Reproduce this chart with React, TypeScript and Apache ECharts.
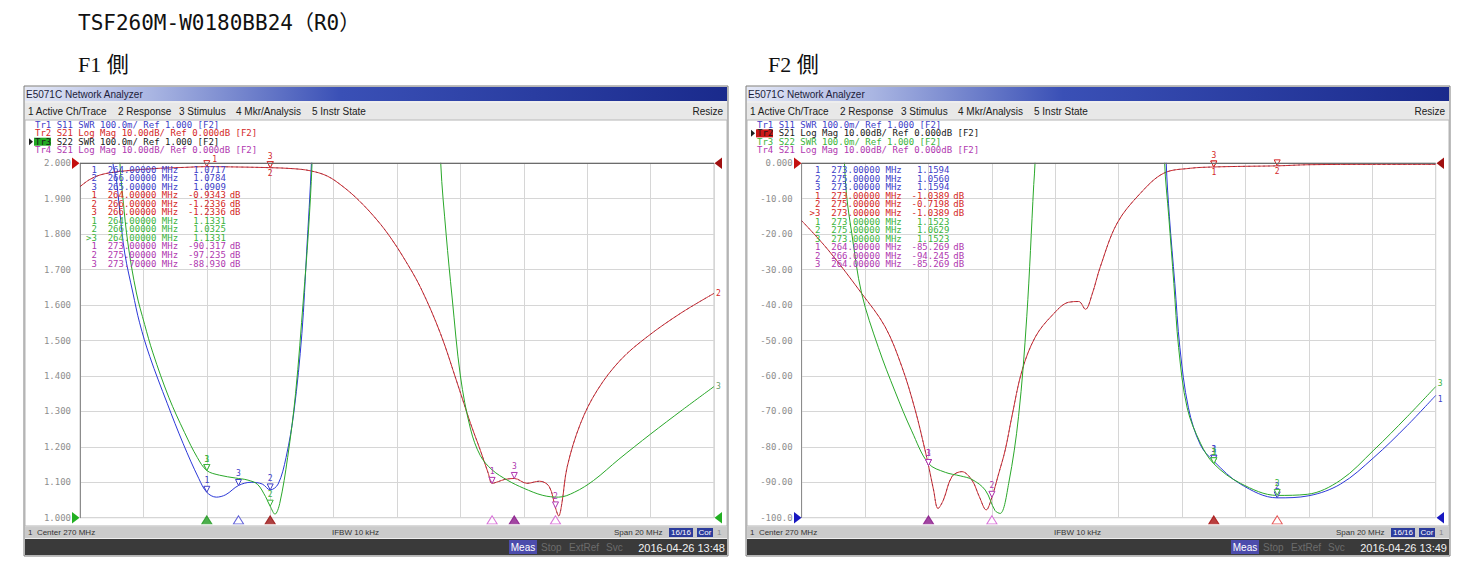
import React, { useEffect, useRef } from "react";
import * as echarts from "echarts";

// ---------- data ----------
const FREQ_MIN = 260;
const FREQ_MAX = 280;
const FREQ_STEP = 2;

// F1 side traces: [MHz, value]
const f1S11: [number, number][] = [
  [260.0, 4.0], [260.8, 2.5], [261.04, 2.0], [261.15, 1.953], [261.25, 1.868], [261.41, 1.747], [261.67, 1.634],
  [261.88, 1.55], [262.2, 1.455], [262.75, 1.323], [263.25, 1.21], [263.75, 1.11], [264.0, 1.0717], [264.3, 1.058],
  [264.6, 1.065], [265.0, 1.0909], [265.4, 1.1], [265.75, 1.095], [266.0, 1.0784], [266.25, 1.095],
  [266.5, 1.17], [266.75, 1.3], [267.0, 1.52], [267.15, 1.75], [267.3, 2.0], [267.45, 2.4], [268.0, 4.0], [280.0, 5.0],
];
const f1S22: [number, number][] = [
  [260.0, 4.0], [261.0, 2.5], [261.26, 2.0], [261.36, 1.896], [261.51, 1.775], [261.78, 1.634], [262.04, 1.545],
  [262.3, 1.465], [262.8, 1.34], [263.3, 1.24], [263.7, 1.17], [264.0, 1.1331], [264.4, 1.12], [264.9, 1.112],
  [265.3, 1.106], [265.6, 1.094], [265.85, 1.06], [266.0, 1.0325], [266.15, 1.01], [266.3, 1.04], [266.55, 1.17],
  [266.8, 1.35], [267.05, 1.62], [267.2, 1.8], [267.32, 2.0], [267.5, 2.5], [268.5, 5.0], [270.5, 5.0], [271.2, 2.5],
  [271.38, 2.0], [271.55, 1.8], [271.74, 1.62], [272.0, 1.4], [272.32, 1.25], [272.63, 1.175], [273.0, 1.135],
  [273.5, 1.105], [274.0, 1.083], [274.6, 1.063], [275.1, 1.058], [275.6, 1.072], [276.2, 1.105], [277.0, 1.165],
  [278.0, 1.236], [279.0, 1.304], [280.0, 1.37],
];
const f1S21: [number, number][] = [
  [260.0, -6.6], [260.3, -4.6], [260.63, -3.3], [261.0, -2.6], [261.47, -2.1], [262.0, -1.7], [262.53, -1.4],
  [263.3, -1.15], [264.0, -0.9343], [265.0, -1.05], [266.0, -1.2336], [266.7, -1.5], [267.26, -2.1],
  [267.8, -3.6], [268.3, -6.6], [268.8, -10.5], [269.37, -16.0], [269.8, -21.0], [270.2, -26.5],
  [270.74, -35.0], [271.37, -48.0], [271.9, -62.0], [272.32, -73.4], [272.63, -81.0], [272.88, -87.5],
  [273.0, -90.317], [273.2, -89.8], [273.4, -89.2], [273.7, -88.93], [274.1, -90.3], [274.5, -89.7],
  [274.8, -91.2], [275.0, -97.235], [275.1, -99.5], [275.2, -96.0], [275.37, -85.6], [275.79, -73.4],
  [276.32, -64.0], [277.05, -55.5], [277.9, -48.9], [278.95, -42.3], [280.0, -36.7],
];

// F2 side traces
const f2S11: [number, number][] = [
  [260.0, 5.0], [270.8, 5.0], [271.3, 2.6], [271.5, 2.0], [271.6, 1.849], [271.77, 1.661], [271.93, 1.48],
  [272.2, 1.31], [272.58, 1.205], [273.0, 1.1594], [273.84, 1.095], [275.0, 1.056], [276.0, 1.062],
  [277.0, 1.095], [278.05, 1.17], [279.1, 1.26], [280.0, 1.345],
];
const f2S22: [number, number][] = [
  [260.0, 4.0], [261.1, 2.6], [261.35, 2.0], [261.42, 1.906], [261.58, 1.802], [261.89, 1.633],
  [262.42, 1.48], [262.95, 1.355], [263.47, 1.245], [264.0, 1.153], [264.53, 1.128], [265.0, 1.118], [265.37, 1.108],
  [265.79, 1.078], [266.1, 1.02], [266.26, 1.012], [266.53, 1.097], [266.84, 1.285], [267.1, 1.567],
  [267.32, 1.94], [267.36, 2.0], [267.6, 2.8], [269.0, 5.0], [270.8, 5.0], [271.25, 2.6], [271.45, 2.0],
  [271.58, 1.849], [271.74, 1.661], [271.89, 1.48], [272.16, 1.31], [272.58, 1.21], [273.0, 1.1523],
  [273.84, 1.097], [275.0, 1.0629], [275.95, 1.066], [277.0, 1.106], [278.05, 1.191], [279.1, 1.285],
  [280.0, 1.37],
];
const f2S21: [number, number][] = [
  [260.0, -16.2], [260.84, -24.5], [261.89, -36.7], [262.63, -46.1], [263.16, -57.4], [263.58, -69.6],
  [263.89, -80.9], [264.0, -85.269], [264.16, -92.2], [264.3, -97.4], [264.47, -95.0], [264.74, -88.4],
  [265.05, -87.0], [265.37, -89.4], [265.6, -94.0], [265.82, -97.8], [266.0, -94.245], [266.2, -88.0],
  [266.42, -80.9], [266.63, -71.5], [266.95, -58.5], [267.37, -49.0], [267.89, -43.0], [268.42, -39.2],
  [268.74, -39.0], [268.95, -41.2], [269.16, -37.0], [269.42, -29.2], [269.95, -16.9], [270.68, -8.5],
  [271.42, -2.8], [272.26, -1.4], [273.0, -1.0389], [274.0, -0.85], [275.0, -0.7198], [276.0, -0.4],
  [278.0, -0.3], [280.0, -0.3],
];

// marker tables [MHz, value]
const f1Mk1: [number, number][] = [[264, 1.0717], [266, 1.0784], [265, 1.0909]];
const f1Mk2: [number, number][] = [[264, -0.9343], [266, -1.2336], [266, -1.2336]];
const f1Mk3: [number, number][] = [[264, 1.1331], [266, 1.0325], [264, 1.1331]];
const f1Mk4: [number, number][] = [[273, -90.317], [275, -97.235], [273.7, -88.93]];
const f2Mk1: [number, number][] = [[273, 1.1594], [275, 1.056], [273, 1.1594]];
const f2Mk2: [number, number][] = [[273, -1.0389], [275, -0.7198], [273, -1.0389]];
const f2Mk3: [number, number][] = [[273, 1.1523], [275, 1.0629], [273, 1.1523]];
const f2Mk4: [number, number][] = [[264, -85.269], [266, -94.245], [264, -85.269]];

// stimulus marker positions along the bottom
const f1StimFreq = [264, 265, 266, 273, 273.7, 275];
const f1StimColor = ["#1f9a1f", "#3a3ad0", "#9a1010", "#d050d0", "#8a168a", "#d050d0"];
const f1StimFill = [true, false, true, false, true, false];
const f2StimFreq = [264, 266, 273, 275];
const f2StimColor = ["#8a168a", "#d050d0", "#a80e0e", "#e03030"];
const f2StimFill = [true, false, true, false];

const traceHeaders = [
  "Tr1 S11 SWR 100.0m/ Ref 1.000 [F2]",
  "Tr2 S21 Log Mag 10.00dB/ Ref 0.000dB [F2]",
  "Tr3 S22 SWR 100.0m/ Ref 1.000 [F2]",
  "Tr4 S21 Log Mag 10.00dB/ Ref 0.000dB [F2]",
];
const menuItems = ["1 Active Ch/Trace", "2 Response", "3 Stimulus", "4 Mkr/Analysis", "5 Instr State"];

// ---------- styles ----------
const MONO = "'DejaVu Sans Mono', monospace";
const SANS = "'Liberation Sans', Arial, sans-serif";
const LINE = { tr1: "#2b38d8", tr2: "#d43030", tr3: "#2aa82a", tr4: "#6a2450" };
const TXT = { tr1: "#4040c8", tr2: "#d42828", tr3: "#3cb43c", tr4: "#b038b0" };
const CH = 5.42; // mono char width at 9px

function fmtVal(v: number) {
  const a = Math.abs(v);
  return (v < 0 ? "-" : "") + (a < 10 ? a.toFixed(4) : a.toFixed(3));
}
function fmtDb(v: number) {
  if (v === 0) return "0.000";
  if (Math.abs(v) >= 100) return v.toFixed(1);
  return v.toFixed(2);
}

function txt(x: number, y: number, text: string, font: string, fill: string, align = "left", z = 30) {
  return { type: "text", z, silent: true, x, y, style: { text, font, fill, align, verticalAlign: "middle" } };
}
function rect(x: number, y: number, w: number, h: number, style: any, z = -20) {
  return { type: "rect", z, silent: true, shape: { x, y, width: w, height: h }, style };
}
function tri(points: number[][], fill: string) {
  return { type: "polygon", z: 40, silent: true, shape: { points }, style: { fill } };
}

function chrome(x0: number, date: string, activeTr: number) {
  const W = 704;
  const els: any[] = [];
  els.push(rect(x0, 86, W, 470, { fill: "#eeeeee", stroke: "#7c7c7c", lineWidth: 1 }, -30));
  els.push(
    rect(x0 + 1, 87, W - 2, 14, {
      fill: new echarts.graphic.LinearGradient(0, 0, 1, 0, [
        { offset: 0, color: "#e4e8f6" },
        { offset: 0.18, color: "#a9b5e2" },
        { offset: 0.45, color: "#3a50b6" },
        { offset: 1, color: "#1a2a8c" },
      ]),
    }, -25)
  );
  els.push(txt(x0 + 2, 94.5, "E5071C Network Analyzer", `10px ${SANS}`, "#1c1c3a"));
  els.push(rect(x0 + 1, 103, W - 2, 16, { fill: "#e8e8e8" }, -25));
  const menuX = [4, 94, 155, 212, 288];
  menuItems.forEach((m, i) => els.push(txt(x0 + menuX[i], 111.5, m, `10px ${SANS}`, "#202020")));
  els.push(txt(x0 + W - 5, 111.5, "Resize", `10px ${SANS}`, "#202020", "right"));
  els.push(rect(x0 + 1, 120, W - 2, 406, { fill: "#ffffff", stroke: "#b4b4b4", lineWidth: 1 }, -25));
  // header lines
  const hColors = [TXT.tr1, TXT.tr2, TXT.tr3, TXT.tr4];
  const boxColors = ["#3a3ad0", "#cc1818", "#22a822", "#b038b0"];
  traceHeaders.forEach((h, i) => {
    const y = 125 + i * 8.35;
    if (i + 1 === activeTr) {
      els.push(rect(x0 + 10, y - 4, 17, 8, { fill: boxColors[i] }, 20));
      els.push(tri([[x0 + 5, y - 3.5], [x0 + 5, y + 3.5], [x0 + 9, y]], "#202020"));
    }
    els.push(txt(x0 + 11, y, h, `9px ${MONO}`, i + 1 === activeTr ? "#1a1a1a" : hColors[i]));
  });
  // status bar
  els.push(rect(x0 + 1, 527, W - 2, 11, { fill: "#cbcbcb" }, -25));
  els.push(txt(x0 + 4, 532.5, "1  Center 270 MHz", `8px ${SANS}`, "#333333"));
  els.push(txt(x0 + 308, 532.5, "IFBW 10 kHz", `8px ${SANS}`, "#333333"));
  els.push(txt(x0 + 590, 532.5, "Span 20 MHz", `8px ${SANS}`, "#333333"));
  els.push(rect(x0 + 645, 528, 24, 9, { fill: "#2c3c9c" }, 10));
  els.push(txt(x0 + 657, 532.5, "16/16", `8px ${SANS}`, "#ffffff", "center"));
  els.push(rect(x0 + 673, 528, 16, 9, { fill: "#2c3c9c" }, 10));
  els.push(txt(x0 + 681, 532.5, "Cor", `8px ${SANS}`, "#ffffff", "center"));
  els.push(txt(x0 + 693, 532.5, "1", `8px ${SANS}`, "#888888"));
  // dark bar
  els.push(rect(x0 + 1, 539, W - 2, 16, { fill: "#3a3a3a" }, -25));
  els.push(rect(x0 + 485, 540, 28, 14, { fill: "#4c4cac" }, 10));
  els.push(txt(x0 + 499, 547.5, "Meas", `10px ${SANS}`, "#ffffff", "center"));
  els.push(txt(x0 + 517, 547.5, "Stop", `10px ${SANS}`, "#6c6c6c"));
  els.push(txt(x0 + 545, 547.5, "ExtRef", `10px ${SANS}`, "#6c6c6c"));
  els.push(txt(x0 + 582, 547.5, "Svc", `10px ${SANS}`, "#6c6c6c"));
  els.push(txt(x0 + 701, 547.5, date, `11px ${SANS}`, "#f2f2f2", "right"));
  return els;
}

function markerTable(x0: number, y0: number, groups: { pts: [number, number][]; color: string; dB: boolean }[], active: [number, number]) {
  const els: any[] = [];
  let row = 0;
  groups.forEach((g, gi) => {
    g.pts.forEach((p, i) => {
      const y = y0 + row * 8.55;
      const isAct = active[0] === gi && active[1] === i;
      els.push(txt(x0 + 2 * CH, y, (isAct ? ">" : "") + String(i + 1), `9px ${MONO}`, g.color, "right"));
      els.push(txt(x0 + 4 * CH, y, p[0].toFixed(5) + " MHz", `9px ${MONO}`, g.color));
      els.push(txt(x0 + 25.8 * CH, y, fmtVal(p[1]), `9px ${MONO}`, g.color, "right"));
      if (g.dB) els.push(txt(x0 + 26.5 * CH, y, "dB", `9px ${MONO}`, g.color));
      row++;
    });
  });
  return els;
}

// labelPos: per-marker label placement override
function markPts(pts: [number, number][], color: string, labelPos: Record<number, any> = {}) {
  return {
    silent: true,
    symbol: "triangle",
    symbolSize: [6, 6],
    symbolRotate: 180,
    symbolOffset: [0, -3],
    itemStyle: { color: "#ffffff", borderColor: color, borderWidth: 1 },
    label: { show: true, position: "top", distance: 1, fontSize: 8, color, fontFamily: MONO, formatter: "{b}" },
    data: pts.map((p, i) => ({
      coord: p,
      name: String(i + 1),
      ...(labelPos[i] ? { label: labelPos[i] } : {}),
    })),
  };
}

function lineSeries(data: [number, number][], xi: number, yi: number, color: string, extra: any = {}) {
  return {
    type: "line",
    xAxisIndex: xi,
    yAxisIndex: yi,
    data,
    showSymbol: false,
    smooth: 0.35,
    clip: true,
    silent: true,
    lineStyle: { color, width: 1 },
    ...extra,
  };
}

function stimSeries(freqs: number[], colors: string[], fills: boolean[], xi: number, yi: number) {
  return {
    type: "scatter",
    xAxisIndex: xi,
    yAxisIndex: yi,
    clip: false,
    silent: true,
    symbol: "triangle",
    symbolSize: [10, 8],
    z: 5,
    data: freqs.map((f, i) => ({
      value: [f, 0.994],
      itemStyle: { color: fills[i] ? colors[i] : "#ffffff", borderColor: colors[i], borderWidth: 1 },
    })),
  };
}

function buildOption(): any {
  const gridTop = 163.3;
  const gridH = 354.4;
  const gridW = 634;
  const xAx = (gi: number) => ({
    type: "value",
    gridIndex: gi,
    min: FREQ_MIN,
    max: FREQ_MAX,
    interval: FREQ_STEP,
    axisLabel: { show: false },
    axisTick: { show: false },
    axisLine: { show: false },
    splitLine: { show: true, lineStyle: { color: "#d6d6d6", width: 1 } },
  });
  const labelStyle = { color: "#8e8e8e", fontFamily: MONO, fontSize: 9, margin: 9 };
  const graphic: any[] = [
    txt(78, 23, "TSF260M-W0180BB24（R0）", `21px ${MONO}, 'Noto Sans CJK JP'`, "#111111", "left", 5),
    txt(78, 64, "F1 側", `22px 'Liberation Serif', 'Noto Sans CJK JP', serif`, "#111111", "left", 5),
    txt(768, 64, "F2 側", `22px 'Liberation Serif', 'Noto Sans CJK JP', serif`, "#111111", "left", 5),
    ...chrome(24, "2016-04-26 13:48", 3),
    ...chrome(746, "2016-04-26 13:49", 2),
    // dark top frame lines
    { type: "line", z: 35, silent: true, shape: { x1: 80, y1: gridTop, x2: 80 + gridW, y2: gridTop }, style: { stroke: "#6c6c6c", lineWidth: 1.2 } },
    { type: "line", z: 35, silent: true, shape: { x1: 801.7, y1: gridTop, x2: 801.7 + gridW, y2: gridTop }, style: { stroke: "#6c6c6c", lineWidth: 1.2 } },
    // reference-position triangles
    tri([[72, 157.5], [72, 169], [79.5, 163.3]], "#c41010"),
    tri([[722, 157.5], [722, 169], [714.5, 163.3]], "#a01010"),
    tri([[72, 512], [72, 523.5], [79.5, 517.7]], "#22b022"),
    tri([[722, 512], [722, 523.5], [714.5, 517.7]], "#22b022"),
    tri([[794, 157.5], [794, 169], [801.5, 163.3]], "#c41010"),
    tri([[1444, 157.5], [1444, 169], [1436.5, 163.3]], "#a01010"),
    tri([[794, 512], [794, 523.5], [801.5, 517.7]], "#1818c0"),
    tri([[1444, 512], [1444, 523.5], [1436.5, 517.7]], "#1818c0"),
    ...markerTable(86, 169.5, [
      { pts: f1Mk1, color: TXT.tr1, dB: false },
      { pts: f1Mk2, color: TXT.tr2, dB: true },
      { pts: f1Mk3, color: TXT.tr3, dB: false },
      { pts: f1Mk4, color: TXT.tr4, dB: true },
    ], [2, 2]),
    ...markerTable(809.6, 170.2, [
      { pts: f2Mk1, color: TXT.tr1, dB: false },
      { pts: f2Mk2, color: TXT.tr2, dB: true },
      { pts: f2Mk3, color: TXT.tr3, dB: false },
      { pts: f2Mk4, color: TXT.tr4, dB: true },
    ], [1, 2]),
  ];

  const endLbl = (t: string, color: string) => ({ show: true, formatter: t, color, fontSize: 8, fontFamily: MONO, distance: 2 });
  const dashed = { color: LINE.tr4, width: 1, type: [2, 3], opacity: 0.55 };
  const below = { position: "bottom", distance: 1 };
  const besideUp = { position: "right", distance: 2, offset: [0, -4] };

  return {
    animation: false,
    backgroundColor: "#ffffff",
    grid: [
      { left: 80, top: gridTop, width: gridW, height: gridH, show: true, borderColor: "#c4c4c4", borderWidth: 1, backgroundColor: "transparent" },
      { left: 801.7, top: gridTop, width: gridW, height: gridH, show: true, borderColor: "#c4c4c4", borderWidth: 1, backgroundColor: "transparent" },
    ],
    xAxis: [xAx(0), xAx(1)],
    yAxis: [
      {
        type: "value", gridIndex: 0, min: 1, max: 2, interval: 0.1,
        axisLabel: { ...labelStyle, formatter: (v: number) => v.toFixed(3) },
        axisTick: { show: false },
        axisLine: { show: true, lineStyle: { color: "#8c8c8c" } },
        splitLine: { show: true, lineStyle: { color: "#d6d6d6" } },
      },
      { type: "value", gridIndex: 0, min: -100, max: 0, show: false, splitLine: { show: false } },
      {
        type: "value", gridIndex: 1, min: -100, max: 0, interval: 10,
        axisLabel: { ...labelStyle, formatter: (v: number) => fmtDb(v) },
        axisTick: { show: false },
        axisLine: { show: true, lineStyle: { color: "#8c8c8c" } },
        splitLine: { show: true, lineStyle: { color: "#d6d6d6" } },
      },
      { type: "value", gridIndex: 1, min: 1, max: 2, show: false, splitLine: { show: false } },
    ],
    series: [
      // F1
      lineSeries(f1S21, 0, 1, LINE.tr2, { markPoint: markPts(f1Mk2, TXT.tr2, { 0: besideUp, 1: below }), endLabel: endLbl("2", TXT.tr2) }),
      lineSeries(f1S21, 0, 1, LINE.tr4, { lineStyle: dashed, markPoint: markPts(f1Mk4, TXT.tr4) }),
      lineSeries(f1S11, 0, 0, LINE.tr1, { markPoint: markPts(f1Mk1, TXT.tr1) }),
      lineSeries(f1S22, 0, 0, LINE.tr3, { markPoint: markPts(f1Mk3, TXT.tr3), endLabel: endLbl("3", "#6a9a6a") }),
      stimSeries(f1StimFreq, f1StimColor, f1StimFill, 0, 0),
      // F2
      lineSeries(f2S21, 1, 2, LINE.tr2, { markPoint: markPts(f2Mk2, TXT.tr2, { 0: below, 1: below }) }),
      lineSeries(f2S21, 1, 2, LINE.tr4, { lineStyle: dashed, markPoint: markPts(f2Mk4, TXT.tr4) }),
      lineSeries(f2S11, 1, 3, LINE.tr1, { markPoint: markPts(f2Mk1, TXT.tr1), endLabel: { ...endLbl("1", TXT.tr1), offset: [0, 4] } }),
      lineSeries(f2S22, 1, 3, LINE.tr3, { markPoint: markPts(f2Mk3, TXT.tr3), endLabel: { ...endLbl("3", TXT.tr3), offset: [0, -3] } }),
      stimSeries(f2StimFreq, f2StimColor, f2StimFill, 1, 3),
    ],
    graphic,
  };
}

export default function App() {
  const ref = useRef<HTMLDivElement>(null);
  useEffect(() => {
    if (!ref.current) return;
    const chart = echarts.init(ref.current, null, { renderer: "svg" });
    chart.setOption(buildOption());
    return () => chart.dispose();
  }, []);
  return (
    <div
      ref={ref}
      style={{ position: "absolute", left: 0, top: 0, width: 1474, height: 580, background: "#ffffff" }}
    />
  );
}
